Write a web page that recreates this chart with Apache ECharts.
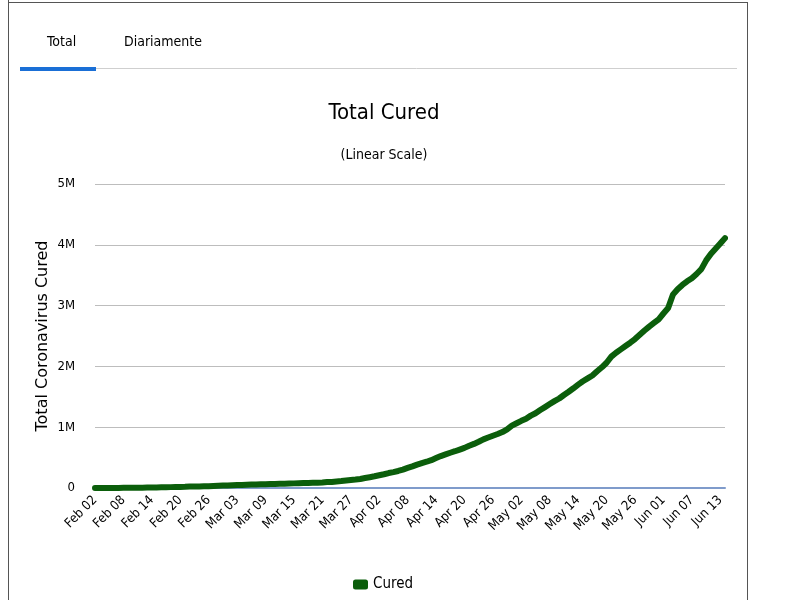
<!DOCTYPE html>
<html>
<head>
<meta charset="utf-8">
<script src="https://cdn.jsdelivr.net/npm/echarts@6/dist/echarts.min.js"></script>
<style>
html,body{margin:0;padding:0;background:#fff;}
#c{width:786px;height:600px;}
</style>
</head>
<body>
<div id="c"></div>
<script>
var categories = [
'Feb 02','Feb 03','Feb 04','Feb 05','Feb 06','Feb 07','Feb 08','Feb 09','Feb 10','Feb 11','Feb 12','Feb 13','Feb 14','Feb 15','Feb 16','Feb 17','Feb 18','Feb 19','Feb 20','Feb 21','Feb 22','Feb 23','Feb 24','Feb 25','Feb 26','Feb 27','Feb 28','Feb 29',
'Mar 01','Mar 02','Mar 03','Mar 04','Mar 05','Mar 06','Mar 07','Mar 08','Mar 09','Mar 10','Mar 11','Mar 12','Mar 13','Mar 14','Mar 15','Mar 16','Mar 17','Mar 18','Mar 19','Mar 20','Mar 21','Mar 22','Mar 23','Mar 24','Mar 25','Mar 26','Mar 27','Mar 28','Mar 29','Mar 30','Mar 31',
'Apr 01','Apr 02','Apr 03','Apr 04','Apr 05','Apr 06','Apr 07','Apr 08','Apr 09','Apr 10','Apr 11','Apr 12','Apr 13','Apr 14','Apr 15','Apr 16','Apr 17','Apr 18','Apr 19','Apr 20','Apr 21','Apr 22','Apr 23','Apr 24','Apr 25','Apr 26','Apr 27','Apr 28','Apr 29','Apr 30',
'May 01','May 02','May 03','May 04','May 05','May 06','May 07','May 08','May 09','May 10','May 11','May 12','May 13','May 14','May 15','May 16','May 17','May 18','May 19','May 20','May 21','May 22','May 23','May 24','May 25','May 26','May 27','May 28','May 29','May 30','May 31',
'Jun 01','Jun 02','Jun 03','Jun 04','Jun 05','Jun 06','Jun 07','Jun 08','Jun 09','Jun 10','Jun 11','Jun 12','Jun 13','Jun 14'
];
var cured = [
520,640,890,1150,1540,2050,2650,3280,3990,4740,5200,6350,8100,9450,10900,12600,14400,16200,18200,18900,22900,23400,25300,27950,30400,33300,36750,39800,
42750,45650,48250,51200,53800,55900,58400,60700,62500,64450,67050,68350,70300,72650,76050,78100,80850,83250,84900,87300,91550,97900,100400,108000,113700,122000,130700,139000,149100,164600,178100,
193200,210300,226000,246200,262000,280000,302000,330000,356000,385000,410000,432000,458000,492000,525000,552000,580000,605000,632000,660000,695000,725000,760000,800000,830000,860000,888000,920000,965000,1025000,
1065000,1105000,1140000,1190000,1230000,1282000,1330000,1380000,1428000,1472000,1530000,1583000,1640000,1700000,1755000,1802000,1850000,1920000,1985000,2060000,2160000,2225000,2280000,2335000,2390000,2450000,2520000,2590000,2655000,2715000,2775000,
2870000,2960000,3180000,3270000,3340000,3400000,3450000,3520000,3600000,3740000,3850000,3935000,4020000,4110000
];
var yTicks = ['0','1M','2M','3M','4M','5M'];
var tabs = ['Total','Diariamente'];
var seriesName = 'Cured';
var titleText = 'Total Cured';
var subtitleText = '(Linear Scale)';
var yAxisName = 'Total Coronavirus Cured';

var narrow = '"Liberation Sans Narrow","DejaVu Sans Condensed","Open Sans",sans-serif';
var chart = echarts.init(document.getElementById('c'));
chart.setOption({
  animation: false,
  backgroundColor: '#fff',
  title: [
    {text: titleText, left: 379, top: 97, textAlign: 'center',
     textStyle: {fontFamily: narrow, fontSize: 22, fontWeight: 'normal', color: '#000'}},
    {text: subtitleText, left: 379, top: 143, textAlign: 'center',
     textStyle: {fontFamily: narrow, fontSize: 14, fontWeight: 'normal', color: '#000'}}
  ],
  legend: {
    bottom: 3, left: 348, data: [seriesName],
    icon: 'roundRect', itemWidth: 15, itemHeight: 10, itemGap: 5,
    textStyle: {fontFamily: narrow, fontSize: 15, color: '#000'}
  },
  grid: {left: 95, right: 61, top: 184, bottom: 112, containLabel: false},
  xAxis: {
    type: 'category', data: categories, boundaryGap: false,
    axisLine: {show: true, lineStyle: {color: '#7f9bcb', width: 2}},
    axisTick: {show: false},
    axisLabel: {interval: 5, rotate: 45, margin: 10, color: '#000',
      fontFamily: narrow, fontSize: 13},
    splitLine: {show: false}
  },
  yAxis: {
    type: 'value', min: 0, max: 5000000, interval: 1000000,
    name: yAxisName, nameLocation: 'middle', nameGap: 44, nameMoveOverlap: false,
    nameTextStyle: {fontFamily: 'DejaVu Sans', fontSize: 16, color: '#000'},
    axisLine: {show: false}, axisTick: {show: false},
    axisLabel: {margin: 20, color: '#000', fontFamily: narrow, fontSize: 13,
      formatter: function (v) { return yTicks[Math.round(v / 1000000)]; }},
    splitLine: {lineStyle: {color: '#bdbdbd', width: 1}}
  },
  series: [{
    name: seriesName, type: 'line', data: cured, showSymbol: false, symbol: 'circle',
    lineStyle: {color: '#0b5e0b', width: 6, cap: 'round', join: 'round'},
    itemStyle: {color: '#0b5e0b'}
  }],
  graphic: [
    {type: 'line', shape: {x1: 8.5, y1: 0, x2: 8.5, y2: 600}, style: {stroke: '#555', lineWidth: 1}},
    {type: 'line', shape: {x1: 8, y1: 2.5, x2: 748, y2: 2.5}, style: {stroke: '#555', lineWidth: 1}},
    {type: 'line', shape: {x1: 747.5, y1: 2, x2: 747.5, y2: 600}, style: {stroke: '#555', lineWidth: 1}},
    {type: 'line', shape: {x1: 96, y1: 68.5, x2: 737, y2: 68.5}, style: {stroke: '#cfcfcf', lineWidth: 1}},
    {type: 'rect', shape: {x: 20, y: 67, width: 76, height: 4}, style: {fill: '#1a6fd6'}},
    {type: 'text', left: 47, top: 35, style: {text: tabs[0], font: '14px "Liberation Sans Narrow","DejaVu Sans Condensed","Open Sans",sans-serif', fill: '#000'}},
    {type: 'text', left: 124, top: 35, style: {text: tabs[1], font: '14px "Liberation Sans Narrow","DejaVu Sans Condensed","Open Sans",sans-serif', fill: '#000'}}
  ]
});
</script>
</body>
</html>
